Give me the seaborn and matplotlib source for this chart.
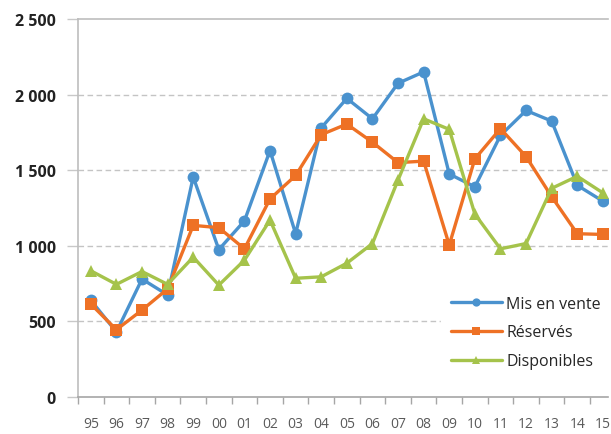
import matplotlib
matplotlib.use("Agg")
import matplotlib.pyplot as plt
import seaborn as sns
import pandas as pd
import numpy as np

# Year labels (two-digit) and the three series
years = ["95", "96", "97", "98", "99", "00", "01", "02", "03", "04", "05",
         "06", "07", "08", "09", "10", "11", "12", "13", "14", "15"]
mis_en_vente = [640, 430, 780, 675, 1455, 975, 1165, 1630, 1080, 1780, 1975,
                1840, 2075, 2150, 1475, 1390, 1730, 1895, 1825, 1400, 1295]
reserves = [615, 445, 575, 715, 1135, 1120, 980, 1310, 1465, 1735, 1805,
            1685, 1550, 1560, 1005, 1575, 1775, 1590, 1325, 1080, 1075]
disponibles = [835, 745, 830, 745, 925, 740, 905, 1170, 785, 795, 885,
               1015, 1435, 1840, 1770, 1210, 980, 1015, 1380, 1460, 1350]
y_ticks = [0, 500, 1000, 1500, 2000, 2500]
y_tick_labels = ["0", "500", "1 000", "1 500", "2 000", "2 500"]

series_names = ["Mis en vente", "Réservés", "Disponibles"]
colors = ["#4A92CE", "#EE7125", "#A5C34B"]
markers = ["o", "s", "^"]

df = pd.DataFrame({
    "x": np.tile(np.arange(len(years)), 3),
    "value": mis_en_vente + reserves + disponibles,
    "serie": np.repeat(series_names, len(years)),
})

sns.set_theme(style="white")
plt.rcParams["font.family"] = ["Open Sans", "DejaVu Sans"]

fig = plt.figure(figsize=(6.11, 4.35), dpi=100)
ax = fig.add_axes([78 / 611, 37 / 435, 530 / 611, 378 / 435])

sns.lineplot(data=df, x="x", y="value", hue="serie", style="serie",
             hue_order=series_names, style_order=series_names,
             palette=colors, markers=dict(zip(series_names, markers)),
             dashes=False, linewidth=2.4, markersize=8.5,
             markeredgewidth=0, ax=ax)

# Right edge of the plot area stops just past the last year
ax.set_xlim(-0.5, len(years) - 0.5 - 0.3)
ax.set_ylim(0, 2500)
ax.set_xlabel("")
ax.set_ylabel("")

# Category labels centred, tick marks on the boundaries
ax.set_xticks(np.arange(len(years)))
ax.set_xticklabels(years, fontsize=10, color="#5A5A5A")
ax.set_xticks(np.arange(len(years)) - 0.5, minor=True)
ax.tick_params(axis="x", which="major", length=0, pad=14)
ax.tick_params(axis="x", which="minor", length=5, width=1, color="#A6A6A6",
               direction="out", bottom=True)

ax.set_yticks(y_ticks)
ax.set_yticklabels(y_tick_labels, fontsize=11.5, fontweight="bold", color="#222222")
ax.tick_params(axis="y", length=8, width=1, color="#C8C8C8", direction="out",
               left=True, pad=8)

# Dashed horizontal gridlines
for v in y_ticks[1:-1]:
    ax.axhline(v, color="#C4C4C4", linewidth=1, linestyle=(0, (4, 2.5)),
               zorder=0)

for side in ["left", "bottom", "top"]:
    ax.spines[side].set_visible(True)
    ax.spines[side].set_color("#BDBDBD")
    ax.spines[side].set_linewidth(1.2)
ax.spines["right"].set_visible(False)
ax.spines["bottom"].set_color("#A6A6A6")

leg = ax.legend(loc="lower right", bbox_to_anchor=(1.02, 0.027),
                frameon=True, fontsize=11.5, handlelength=3.2,
                handletextpad=0.3, labelspacing=0.8, markerscale=0.7,
                borderpad=0.6)
leg.get_frame().set_facecolor("white")
leg.get_frame().set_edgecolor("white")
leg.get_frame().set_alpha(1)
for line in leg.get_lines():
    line.set_linewidth(2.4)

fig.savefig("out.png", dpi=100)
